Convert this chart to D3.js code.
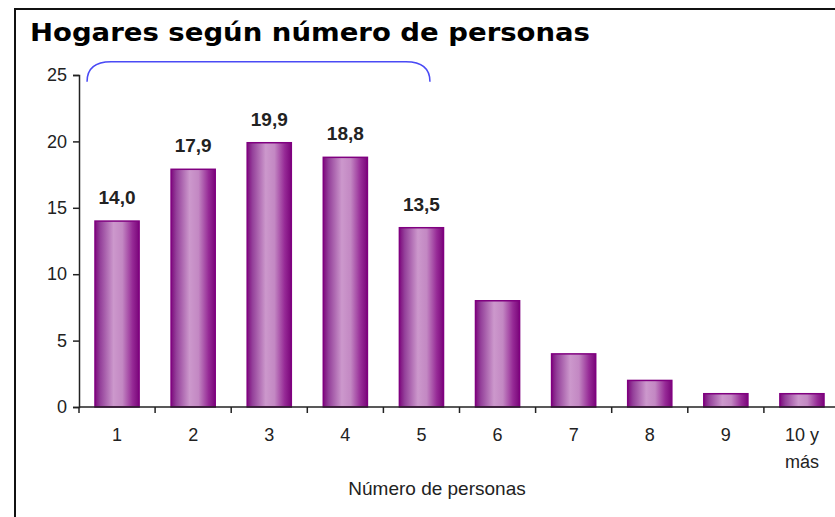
<!DOCTYPE html>
<html>
<head>
<meta charset="utf-8">
<script src="https://cdn.jsdelivr.net/npm/d3@7"></script>
<style>
  body { margin: 0; background: #fff; }
  svg { display: block; }
</style>
</head>
<body>
<svg id="chart"></svg>
<script>
// Data
let categories = ["1", "2", "3", "4", "5", "6", "7", "8", "9", "10 y más"];
let values = [14.0, 17.9, 19.9, 18.8, 13.5, 8.0, 4.0, 2.0, 1.0, 1.0];
let labelled = ["1", "2", "3", "4", "5"];   // bars with value labels
let yTicks = [0, 5, 10, 15, 20, 25];

// SVG Size
let width = 835;
let height = 517;

let svg = d3.select("#chart")
    .attr("width", width)
    .attr("height", height);

// Frame (left + top border)
svg.append("path")
    .attr("d", `M15,${height} L15,9 L${width},9`)
    .attr("fill", "none")
    .attr("stroke", "#111")
    .attr("stroke-width", 2);

// Title
svg.append("text")
    .attr("x", 30)
    .attr("y", 41)
    .attr("font-family", "DejaVu Sans")
    .attr("font-weight", "bold")
    .attr("font-size", 25)
    .attr("textLength", 560)
    .attr("lengthAdjust", "spacingAndGlyphs")
    .attr("fill", "#000")
    .text("Hogares según número de personas");

// Scales
let x = d3.scaleBand()
    .domain(categories)
    .range([79, 840])
    .paddingInner(0.42)
    .paddingOuter(0.21);

let y = d3.scaleLinear()
    .domain([0, 25])
    .range([407, 75]);

// Gradient for bars
let defs = svg.append("defs");
let grad = defs.append("linearGradient")
    .attr("id", "barGrad")
    .attr("x1", "0%").attr("x2", "100%")
    .attr("y1", "0%").attr("y2", "0%");
[
    [0, "#7d0a7d"],
    [0.12, "#94409a"],
    [0.42, "#cc98cc"],
    [0.62, "#c388c3"],
    [0.85, "#962a96"],
    [1, "#7a057a"]
].forEach(s => grad.append("stop").attr("offset", s[0]).attr("stop-color", s[1]));

// Bars
svg.selectAll("rect.bar")
    .data(categories.map((c, i) => ({ cat: c, value: values[i] })))
    .enter()
    .append("rect")
    .attr("class", "bar")
    .attr("x", d => x(d.cat))
    .attr("width", x.bandwidth())
    .attr("y", d => y(d.value))
    .attr("height", d => y(0) - y(d.value))
    .attr("fill", "url(#barGrad)")
    .attr("stroke", "#800080")
    .attr("stroke-width", 1.5);

// Value labels
svg.selectAll("text.val")
    .data(categories.map((c, i) => ({ cat: c, value: values[i] })).filter(d => labelled.includes(d.cat)))
    .enter()
    .append("text")
    .attr("class", "val")
    .attr("x", d => x(d.cat) + x.bandwidth() / 2)
    .attr("y", d => y(d.value) - 17)
    .attr("text-anchor", "middle")
    .attr("font-family", "Liberation Sans, Arial, sans-serif")
    .attr("font-weight", "bold")
    .attr("font-size", 19)
    .attr("fill", "#222")
    .text(d => d.value.toFixed(1).replace(".", ","));

// Y axis
let yAxis = svg.append("g")
    .attr("transform", "translate(79,0)")
    .call(d3.axisLeft(y).tickValues(yTicks).tickSize(6).tickPadding(6));
yAxis.select(".domain").attr("stroke", "#222").attr("stroke-width", 1.5);
yAxis.selectAll(".tick line").attr("stroke", "#222").attr("stroke-width", 1.5);
yAxis.selectAll(".tick text")
    .attr("font-family", "Liberation Sans, Arial, sans-serif")
    .attr("font-size", 18)
    .attr("fill", "#222");

// X axis
let xAxis = svg.append("g")
    .attr("transform", `translate(0,${y(0)})`);
xAxis.append("line")
    .attr("x1", 79).attr("x2", width)
    .attr("stroke", "#222").attr("stroke-width", 1.5);
let step = x.step();
xAxis.selectAll("line.tick")
    .data(categories)
    .enter()
    .append("line")
    .attr("class", "tick")
    .attr("x1", d => x(d) - step * 0.21)
    .attr("x2", d => x(d) - step * 0.21)
    .attr("y1", 0).attr("y2", 6)
    .attr("stroke", "#222").attr("stroke-width", 1.5);

let xLabels = xAxis.selectAll("text.xl")
    .data(categories)
    .enter()
    .append("text")
    .attr("class", "xl")
    .attr("x", d => x(d) + x.bandwidth() / 2)
    .attr("y", 34)
    .attr("text-anchor", "middle")
    .attr("font-family", "Liberation Sans, Arial, sans-serif")
    .attr("font-size", 18)
    .attr("fill", "#222");
xLabels.each(function (d) {
    let parts = d === "10 y más" ? ["10 y", "más"] : [d];
    let t = d3.select(this);
    parts.forEach((p, i) => {
        t.append("tspan")
            .attr("x", x(d) + x.bandwidth() / 2)
            .attr("dy", i === 0 ? 0 : 27)
            .text(p);
    });
});

// Axis title
svg.append("text")
    .attr("x", 437)
    .attr("y", 495)
    .attr("text-anchor", "middle")
    .attr("font-family", "Liberation Sans, Arial, sans-serif")
    .attr("font-size", 19)
    .attr("fill", "#222")
    .text("Número de personas");

// Bracket annotation over categories 1-5
let bx0 = x("1") + x.bandwidth() / 2 - 30;
let bx1 = x("5") + x.bandwidth() / 2 + 8.5;
let by0 = y(24.5);
let by1 = y(26);
let r = 24;
svg.append("path")
    .attr("d", `M${bx0},${by0} Q${bx0},${by1} ${bx0 + r},${by1} L${bx1 - r},${by1} Q${bx1},${by1} ${bx1},${by0}`)
    .attr("fill", "none")
    .attr("stroke", "#4a4af5")
    .attr("stroke-width", 1.5);
</script>
</body>
</html>
